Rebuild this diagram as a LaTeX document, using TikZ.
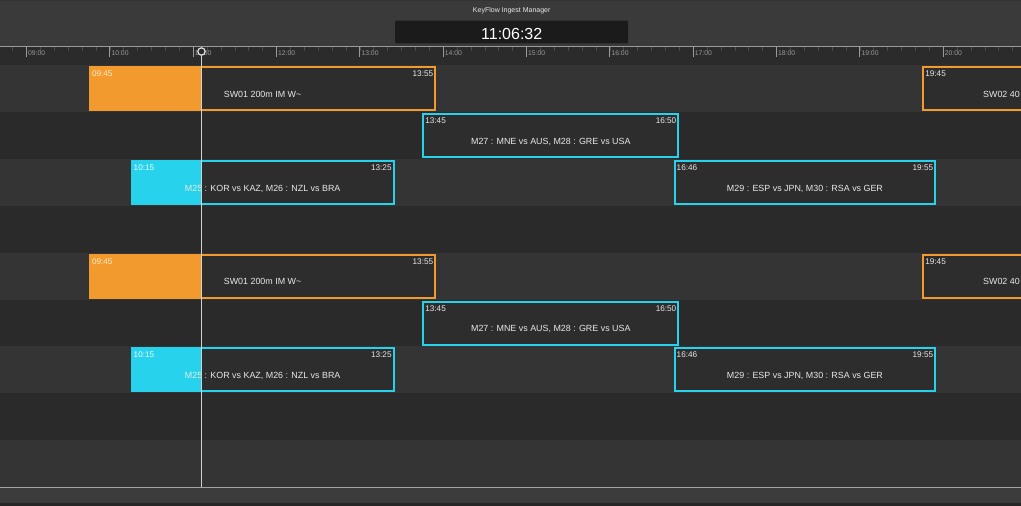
\documentclass[tikz,border=0pt]{standalone}
\usepackage{fontspec}
\setmainfont{Liberation Sans}
\definecolor{hdr}{HTML}{3A3A3A}
\definecolor{strip}{HTML}{2B2B2B}
\definecolor{rowA}{HTML}{343434}
\definecolor{rowB}{HTML}{2A2A2A}
\definecolor{boxin}{HTML}{2D2D2D}
\definecolor{evorange}{HTML}{F39A2E}
\definecolor{evcyan}{HTML}{27D3EC}
\definecolor{clockbg}{HTML}{1B1B1B}
\definecolor{rulecol}{HTML}{9A9A9A}
\definecolor{tickcol}{HTML}{4C4C4C}
\definecolor{txt}{HTML}{E8E8E8}
\definecolor{onorange}{HTML}{FFEBC8}
\definecolor{oncyan}{HTML}{F0FCFF}
\definecolor{botbar}{HTML}{3C3C3C}
\tikzset{
  evrect/.style={draw, line width=2pt, fill=boxin, outer sep=0pt, inner sep=0pt, minimum height=43pt},
  lbl/.style={inner sep=0pt, text=txt, font=\fontsize{8.2}{9}\selectfont},
  ctr/.style={inner sep=0pt, text=txt, font=\fontsize{8.9}{10}\selectfont, anchor=base},
  rlbl/.style={inner sep=0pt, text=rulecol, font=\fontsize{6.8}{8}\selectfont, anchor=base west},
}
% box shape: #1 name, #2 x1, #3 x2, #4 row top, #5 colour
\newcommand\evshape[5]{%
  \node[evrect, draw=#5, minimum width={#3-#2-2}, anchor=north west] (#1) at (#2+1,#4+2) {};
}
% elapsed part: #1 x1, #2 row top, #3 colour
\newcommand\evfill[3]{%
  \fill[#3] (#1,#2+1) rectangle (201.5,#2+46);
}
% texts: #1 name, #2 left label, #3 its colour, #4 right label, #5 centre text
\newcommand\evtext[5]{%
  \node[lbl, anchor=north west, text=#3] (#1L) at ([shift={(1.8,3.6)}]#1.north west) {#2};
  \node[lbl, anchor=north east] (#1R) at ([shift={(-1.8,3.6)}]#1.north east) {#4};
  \node[ctr] (#1C) at ([shift={(0,30.3)}]#1.north) {#5};
}
\begin{document}
\begin{tikzpicture}[x=1pt,y=-1pt]
\useasboundingbox (0,0) rectangle (1021,506);
\clip (0,0) rectangle (1021,506);
% header
\fill[hdr] (0,0) rectangle (1021,46.5);
\fill[black!80] (0,0) rectangle (1021,0.8);
\node[inner sep=0pt, text=txt, font=\fontsize{7}{8}\selectfont, anchor=base] (title) at (511.7,12.3) {KeyFlow Ingest Manager};
\node[fill=clockbg, rounded corners=1pt, minimum width=233pt, minimum height=22.6pt, inner sep=0pt, outer sep=0pt] (clockbox) at (511.7,32) {};
\node[inner sep=0pt, text=white, font=\fontsize{16}{18}\selectfont, anchor=base] (clock) at (511.7,39) {11:06:32};
% ruler strip and rows
\fill[strip] (0,46.5) rectangle (1021,65);
\foreach \r in {0,...,8}{
  \pgfmathsetmacro\yt{65+46.9*\r}
  \pgfmathsetmacro\yb{65+46.9*(\r+1)}
  \pgfmathtruncatemacro\odd{mod(\r,2)}
  \ifnum\odd=0 \fill[rowA] (0,\yt) rectangle (1021,\yb);
  \else \fill[rowB] (0,\yt) rectangle (1021,\yb); \fi
}
% ruler
\draw[rulecol, line width=1.1pt] (0,46.4) -- (1021,46.4);
\foreach \i in {-2,...,72}{
  \draw[tickcol, line width=0.6pt] ({26.5+\i*13.889},47) -- ({26.5+\i*13.889},50.5);
}
\foreach \h/\t in {0/09:00,1/10:00,2/11:00,3/12:00,4/13:00,5/14:00,6/15:00,7/16:00,8/17:00,9/18:00,10/19:00,11/20:00}{
  \draw[rulecol, line width=0.8pt] ({26.5+\h*83.333},47) -- ({26.5+\h*83.333},57);
  \node[rlbl] (h\h) at ({28+\h*83.333},55.7) {\t};
}
% events: group 1 (rows starting at 65) and group 2 (rows starting at 252.6)
\foreach \g/\yo in {a/0,b/187.6}{
  \pgfmathsetmacro\ya{65+\yo}
  \pgfmathsetmacro\yb{111.9+\yo}
  \pgfmathsetmacro\yc{158.8+\yo}
  \evshape{sw1\g}{89}{436.2}{\ya}{evorange}
  \evfill{89}{\ya}{evorange}
  \evtext{sw1\g}{09:45}{onorange}{13:55}{SW01 200m IM W\char`\~}
  \evshape{m27\g}{422.3}{679.3}{\yb}{evcyan}
  \evtext{m27\g}{13:45}{txt}{16:50}{M27 : MNE vs AUS, M28 : GRE vs USA}
  \evshape{m25\g}{130.7}{394.6}{\yc}{evcyan}
  \evfill{130.7}{\yc}{evcyan}
  \evtext{m25\g}{10:15}{oncyan}{13:25}{M25 : KOR vs KAZ, M26 : NZL vs BRA}
  \evshape{m29\g}{673.7}{936.2}{\yc}{evcyan}
  \evtext{m29\g}{16:46}{txt}{19:55}{M29 : ESP vs JPN, M30 : RSA vs GER}
  \node[evrect, draw=evorange, minimum width=200pt, anchor=north west] (sw2\g) at (923.3,\ya+2) {};
  \node[lbl, anchor=north west] (sw2\g L) at ([shift={(1.8,3.6)}]sw2\g.north west) {19:45};
  \node[ctr, anchor=base west] (sw2\g C) at (983,\ya+32.3) {SW02 40};
}
% bottom
\fill[botbar] (0,487.5) rectangle (1021,503);
\fill[black!85] (0,503) rectangle (1021,506);
\draw[rulecol!90, line width=1.3pt] (0,487.6) -- (1021,487.6);
% playhead
\coordinate (phtop) at (201.5,55);
\coordinate (phbot) at (201.5,487);
\draw[white!82!black, line width=1.2pt] (phtop) -- (phbot);
\node[circle, draw=white!88!black, fill=strip, line width=1.2pt, minimum size=7.4pt, inner sep=0pt] (ph) at (201.5,51.5) {};
\end{tikzpicture}
\end{document}
